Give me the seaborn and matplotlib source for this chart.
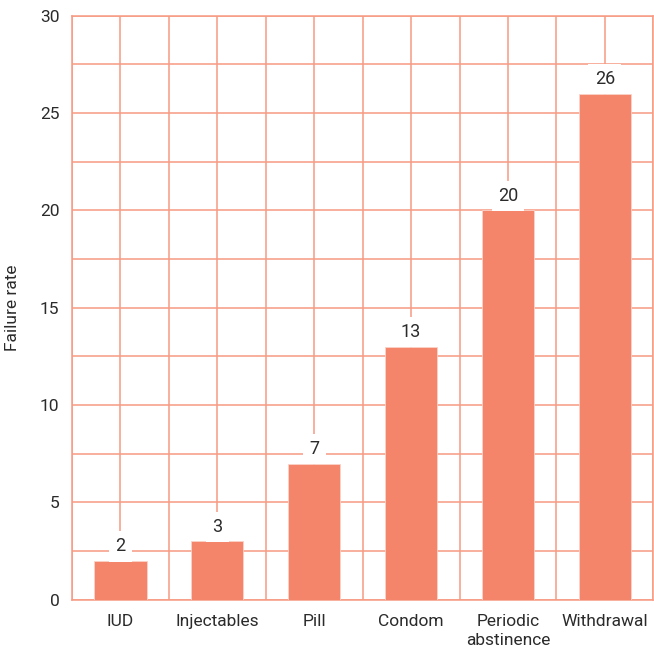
import matplotlib
matplotlib.use("Agg")
import matplotlib.pyplot as plt
import seaborn as sns
import pandas as pd
from matplotlib.ticker import MultipleLocator

methods = ["IUD", "Injectables", "Pill", "Condom", "Periodic\nabstinence", "Withdrawal"]
failure_rate = [2, 3, 7, 13, 20, 26]
y_ticks = [0, 5, 10, 15, 20, 25, 30]

bar_color = "#F4846A"
grid_color = "#F79A82"
text_color = "#2B2B2B"

sns.set_theme(style="white")
plt.rcParams["font.family"] = ["Roboto", "DejaVu Sans"]

df = pd.DataFrame({"method": methods, "rate": failure_rate})

fig = plt.figure(figsize=(6.54, 6.52), dpi=100)
ax = fig.add_axes([0.110, 0.080, 0.889, 0.896])

sns.barplot(data=df, x="method", y="rate", color=bar_color, saturation=1,
            width=0.54, edgecolor="#FBD3C8", linewidth=0.6, ax=ax, zorder=3)

ax.set_xlim(-0.5, 5.5)
ax.set_ylim(0, 30)
ax.set_yticks(y_ticks)
ax.yaxis.set_minor_locator(MultipleLocator(2.5))
ax.set_xticks(range(len(methods)))
ax.set_xticks([i - 0.5 for i in range(len(methods) + 1)], minor=True)
ax.set_xticklabels(methods, linespacing=1.35)

ax.set_axisbelow(True)
ax.grid(which="both", color=grid_color, linewidth=1.1)
for side, sp in ax.spines.items():
    sp.set_visible(True)
    sp.set_color(grid_color)
    sp.set_linewidth(1.1)

ax.tick_params(axis="both", which="both", length=0, labelsize=12.5,
               labelcolor=text_color)
ax.tick_params(axis="x", pad=10)
ax.tick_params(axis="y", pad=9)
ax.set_xlabel("")
ax.set_ylabel("Failure rate", fontsize=12.5, color=text_color)
ax.yaxis.set_label_coords(-0.09, 0.5)

for container in ax.containers:
    labels = ax.bar_label(container, labels=[str(v) for v in failure_rate],
                          padding=4, fontsize=13, color=text_color, zorder=4)
    for t in labels:
        t.set_bbox(dict(facecolor="white", edgecolor="none", pad=4.5))

fig.savefig("out.png", dpi=100)
